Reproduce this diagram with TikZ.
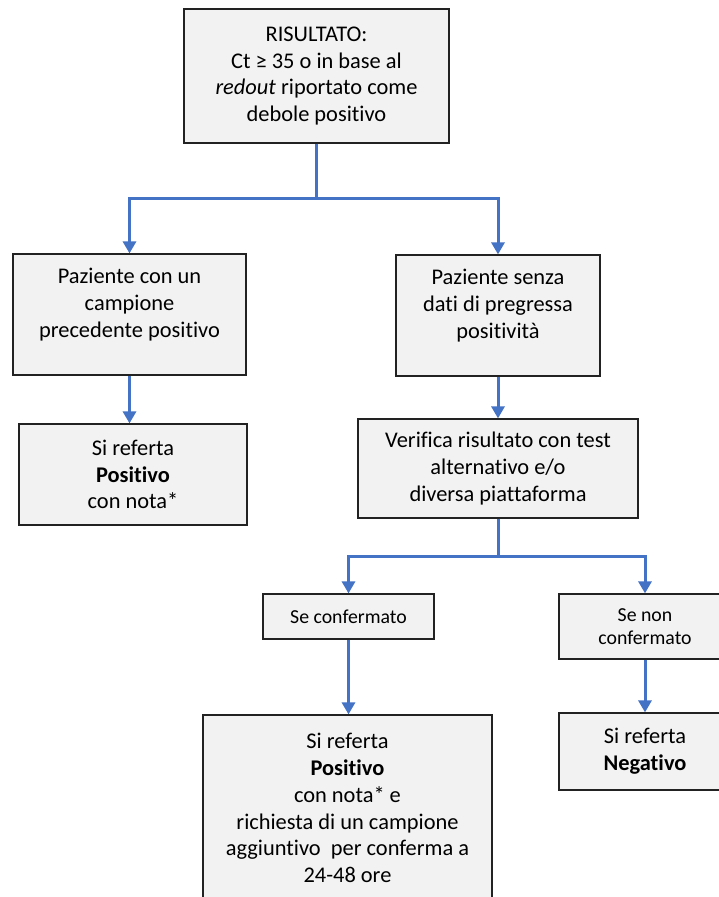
\documentclass[tikz,border=0pt]{standalone}
\usepackage{fontspec}
\setmainfont{Carlito}[Ligatures=NoCommon]
\usepackage{tikz}
\usetikzlibrary{arrows.meta}
\definecolor{linkblue}{HTML}{4472C4}
\definecolor{boxfill}{HTML}{F2F2F2}
\definecolor{boxline}{HTML}{222222}
\tikzset{%
  tipB/.tip={Triangle[width=13pt,length=12pt]},
  box/.style={draw=boxline, fill=boxfill, line width=1.2pt, align=center, inner sep=0pt,
    font=\fontsize{22.4}{26.8}\selectfont},
  smallbox/.style={box, font=\fontsize{19.8}{23}\selectfont},
  link/.style={draw=linkblue, line width=3pt, -tipB}
}

\begin{document}
\begin{tikzpicture}[x=1pt,y=-1pt]
\useasboundingbox (0,0) rectangle (719,897);
\node[box, minimum width=265pt, minimum height=134pt] (result) at (316.5,76) {RISULTATO:\\Ct ≥ 35 o in base al\\\textit{redout} riportato come\\debole positivo};
\node[box, minimum width=233pt, minimum height=121pt] (pazCon) at (129.5,314.5) {\parbox[c][99pt][t]{225pt}{\centering\strut Paziente con un\\campione\\precedente positivo}};
\node[box, minimum width=204pt, minimum height=121pt] (pazSenza) at (498,315.5) {\parbox[c][99pt][t]{196pt}{\centering\strut Paziente senza\\dati di pregressa\\positività}};
\node[box, minimum width=228pt, minimum height=101pt] (posA) at (133,474.5) {Si referta\\\textbf{Positivo}\\con nota*};
\node[box, minimum width=280pt, minimum height=99pt] (verifica) at (498,468.5) {Verifica risultato con test\\alternativo e/o\\diversa piattaforma};
\node[smallbox, minimum width=171pt, minimum height=45pt] (seConf) at (348.5,616.5) {Se confermato};
\node[smallbox, minimum width=172pt, minimum height=65pt] (seNon) at (645,626.5) {Se non\\confermato};
\node[box, minimum width=289pt, minimum height=186pt] (posB) at (347.5,808) {Si referta\\\textbf{Positivo}\\con nota* e\\richiesta di un campione\\aggiuntivo~ per conferma a\\24-48 ore};
\node[box, minimum width=172pt, minimum height=77pt] (negB) at (645,751.5) {Si referta\\\textbf{Negativo}};
% frecce
\draw[link] (result.south) -- ++(0,55) -| (pazCon.north);
\draw[link] (result.south) -- ++(0,55) -| (pazSenza.north);
\draw[link] (pazCon.south) -- (pazCon.south |- posA.north);
\draw[link] (pazSenza.south) -- (verifica.north);
\draw[link] (verifica.south) -- ++(0,38) -| (seConf.north);
\draw[link] (verifica.south) -- ++(0,38) -| (seNon.north);
\draw[link] (seConf.south) -- (seConf.south |- posB.north);
\draw[link] (seNon.south) -- (negB.north);
\end{tikzpicture}
\end{document}
